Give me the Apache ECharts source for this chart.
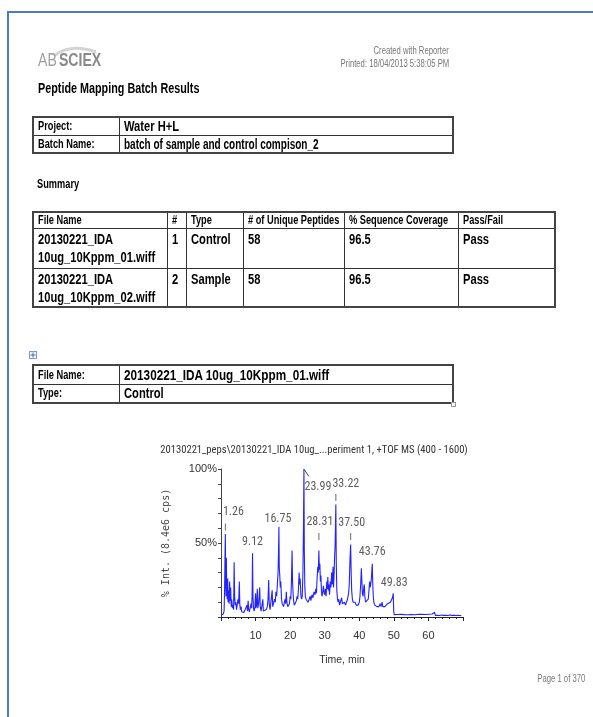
<!DOCTYPE html>
<html><head><meta charset="utf-8">
<script src="https://cdn.jsdelivr.net/npm/echarts@6/dist/echarts.min.js"></script>
<style>
html,body{margin:0;padding:0;background:#fff;}
body{width:593px;height:717px;position:relative;overflow:hidden;font-family:"Liberation Sans",Arial,sans-serif;color:#000;}
#chart{position:absolute;left:0;top:0;width:593px;height:717px;}
.abs{position:absolute;white-space:nowrap;}
.n{display:inline-block;transform:scaleX(0.77);transform-origin:0 50%;white-space:nowrap;}
.r .n{transform-origin:100% 50%;}
.bt{position:absolute;left:7px;top:11px;right:0;height:2px;background:#4a7ebb;}
.bl{position:absolute;left:7px;top:11px;bottom:0;width:2px;background:#4a7ebb;}
table{position:absolute;border-collapse:collapse;table-layout:fixed;border:2px solid #444;}
td{border:1px solid #333;padding:0 0 0 4px;font-weight:bold;vertical-align:middle;white-space:nowrap;}
td.k{font-size:12px;}
td.v{font-size:14.5px;}
.sum td{vertical-align:top;}
.sum tr.h td{font-size:12px;vertical-align:middle;}
.sum tr.b td{font-size:14.5px;line-height:18px;padding-top:1px;}
.gray{color:#777;}
</style>
</head><body>
<div id="chart"></div>
<div class="bt"></div><div class="bl"></div>
<svg class="abs" style="left:34px;top:40px" width="80" height="20"><path d="M20 16 Q36 3 62 12" stroke="#d4d4d4" stroke-width="3" fill="none"/></svg>
<div class="abs" style="left:38px;top:49px;font-size:19px;color:#a0a0a0;"><span class="n" style="transform:scaleX(0.74)">AB<b style="color:#8a8a8a;margin-left:3px;">SCIEX</b></span></div>
<div class="abs gray r" style="right:144px;top:44px;font-size:10px;text-align:right;line-height:13px;"><span class="n">Created with Reporter</span><br><span class="n">Printed: 18/04/2013 5:38:05 PM</span></div>
<div class="abs" style="left:38px;top:79px;font-size:15px;font-weight:bold;"><span class="n" style="transform:scaleX(0.72)">Peptide Mapping Batch Results</span></div>

<table style="left:32px;top:116px;width:420px;">
<colgroup><col style="width:86px"><col style="width:334px"></colgroup>
<tr style="height:18px"><td class="k"><span class="n">Project:</span></td><td class="v"><span class="n">Water H+L</span></td></tr>
<tr style="height:18px"><td class="k"><span class="n">Batch Name:</span></td><td class="v"><span class="n" style="transform:scaleX(0.69)">batch of sample and control compison_2</span></td></tr>
</table>

<div class="abs" style="left:37px;top:177px;font-size:12px;font-weight:bold;"><span class="n">Summary</span></div>

<table class="sum" style="left:32px;top:211px;width:522px;">
<colgroup><col style="width:134px"><col style="width:19px"><col style="width:57px"><col style="width:101px"><col style="width:114px"><col style="width:97px"></colgroup>
<tr class="h" style="height:16px"><td><span class="n">File Name</span></td><td><span class="n">#</span></td><td><span class="n">Type</span></td><td><span class="n"># of Unique Peptides</span></td><td><span class="n">% Sequence Coverage</span></td><td><span class="n">Pass/Fail</span></td></tr>
<tr class="b" style="height:40px"><td><span class="n">20130221_IDA</span><br><span class="n">10ug_10Kppm_01.wiff</span></td><td><span class="n">1</span></td><td><span class="n">Control</span></td><td><span class="n">58</span></td><td><span class="n">96.5</span></td><td><span class="n">Pass</span></td></tr>
<tr class="b" style="height:39px"><td><span class="n">20130221_IDA</span><br><span class="n">10ug_10Kppm_02.wiff</span></td><td><span class="n">2</span></td><td><span class="n">Sample</span></td><td><span class="n">58</span></td><td><span class="n">96.5</span></td><td><span class="n">Pass</span></td></tr>
</table>

<svg class="abs" style="left:29px;top:351px" width="8" height="8"><rect x="0.5" y="0.5" width="7" height="7" fill="#eef3fb" stroke="#7a9cc8"/><path d="M4 1.5V6.5M1.5 4H6.5" stroke="#4a6fa8"/></svg>
<table style="left:32px;top:364px;width:420px;">
<colgroup><col style="width:86px"><col style="width:334px"></colgroup>
<tr style="height:19px"><td class="k"><span class="n">File Name:</span></td><td class="v"><span class="n" style="transform:scaleX(0.81)">20130221_IDA 10ug_10Kppm_01.wiff</span></td></tr>
<tr style="height:19px"><td class="k"><span class="n">Type:</span></td><td class="v"><span class="n">Control</span></td></tr>
</table>
<svg class="abs" style="left:451px;top:402px" width="5" height="5"><rect x="0.5" y="0.5" width="4" height="4" fill="#fff" stroke="#999"/></svg>

<div class="abs gray r" style="right:8px;top:673px;font-size:10px;"><span class="n">Page 1 of 370</span></div>

<script>
// Chromatogram (TIC): time (min) and % intensity
const times = [0.0,0.3,0.6,0.9,1.05,1.15,1.26,1.35,1.45,1.55,1.65,1.8,1.95,2.05,2.2,2.35,2.5,2.65,2.8,2.95,3.1,3.3,3.5,3.65,3.8,3.95,4.1,4.3,4.5,4.7,4.9,5.1,5.3,5.45,5.6,5.8,6.0,6.3,6.6,6.9,7.2,7.5,7.65,7.85,8.0,8.2,8.45,8.7,8.85,9.0,9.12,9.25,9.4,9.6,9.8,10.0,10.1,10.3,10.5,10.65,10.9,11.2,11.35,11.6,11.9,12.1,12.25,12.5,12.8,13.1,13.4,13.6,13.8,13.95,14.2,14.5,14.8,14.95,15.2,15.5,15.7,15.9,16.1,16.3,16.5,16.65,16.75,16.85,17.0,17.15,17.3,17.5,17.7,17.9,18.1,18.3,18.5,18.7,18.9,19.05,19.3,19.5,19.8,20.0,20.2,20.4,20.55,20.7,20.85,21.0,21.2,21.4,21.6,21.8,22.0,22.2,22.4,22.6,22.75,22.9,23.1,23.3,23.5,23.7,23.85,23.99,24.1,24.25,24.4,24.6,24.8,25.0,25.2,25.5,25.8,26.0,26.3,26.6,26.9,27.2,27.4,27.6,27.8,28.0,28.15,28.31,28.45,28.6,28.75,28.9,29.05,29.2,29.4,29.6,29.8,30.0,30.2,30.4,30.6,30.75,30.9,31.05,31.2,31.4,31.6,31.8,32.0,32.2,32.4,32.55,32.7,32.85,33.0,33.1,33.22,33.35,33.5,33.7,33.9,34.1,34.3,34.6,34.9,35.1,35.4,35.7,36.0,36.3,36.6,36.9,37.1,37.3,37.5,37.65,37.8,38.0,38.2,38.5,38.8,39.1,39.4,39.7,40.0,40.2,40.4,40.6,40.75,40.9,41.1,41.3,41.45,41.6,41.8,42.0,42.3,42.6,42.8,43.0,43.15,43.3,43.5,43.65,43.76,43.9,44.05,44.2,44.5,44.8,45.1,45.4,45.7,46.0,46.3,46.6,46.8,47.1,47.4,47.8,48.2,48.6,49.0,49.3,49.6,49.83,49.95,50.1,50.6,51.1,51.6,52.1,52.6,53.1,53.6,54.1,54.6,55.1,55.6,56.1,56.6,57.1,57.6,58.1,58.6,59.1,59.6,60.1,60.6,61.1,61.5,61.8,62.0,62.3,62.6,62.9,63.2,63.5,63.8,64.1,64.4,64.7,65.0,65.3,65.6,65.9,66.2,66.5,66.8,67.1,67.4,67.7,68.0,68.3,68.6,68.9,69.2,69.5];
const intensity = [1.2,1.5,1.8,4,20,40,56,22,14,40,18,12,26,10,18,9,24,11,20,7,12,6,8,5,37,14,8,10,5,6,12,9,24,8,5,7,3.5,4,3,4.5,3.5,8,4,11,5,3.5,4,9,6,14,43,14,6,4,7,16,6,8,19,6,9,20,7,4,5,12,4,3,3.5,5,7,12,25,9,5,6,18,7,9,12,10,17,14,22,30,45,61,34,28,20,24,12,9,10,7,8,12,9,17,10,7,8,9,14,12,26,45,24,16,11,8,9,7,11,14,12,19,30,22,26,15,12,14,30,60,100,45,20,14,12,11,13,10,12,14,11,15,13,17,15,19,16,26,34,30,45,32,36,24,28,18,14,16,21,17,15,19,14,24,19,27,18,22,15,24,20,30,22,34,20,28,40,48,60,76,36,18,12,10,12,8,9,13,9,8,10,8,9,12,16,22,38,49,30,18,12,10,9,10,8,9,8,10,14,22,33,24,16,14,20,22,14,10,11,9,12,18,24,20,22,26,32,36,22,14,10,8,9,7,8,7,9,7,10,7,8,7,8,9,9,10,11,13,16,4,1.6,1.4,1.7,1.5,1.8,1.4,1.6,1.9,1.5,1.7,1.6,1.8,1.5,1.7,1.9,1.6,1.8,1.6,1.7,1.8,1.9,2.0,2.0,2.2,3.2,1.0,0.6,1.2,0.5,1.0,0.7,1.3,0.6,1.1,0.5,1.2,0.7,1.0,0.5,1.3,0.6,1.1,0.7,1.2,0.5,1.0,0.7,1.2,0.6,1.0,0.8];
const peakTimes = [1.26, 9.12, 16.75, 23.99, 28.31, 33.22, 37.50, 43.76, 49.83];
const markedPeaks = [1.26, 28.31, 33.22, 37.50];
const xTicks = [10, 20, 30, 40, 50, 60];
const yTickLabels = [50, 100];
const titleText = '20130221_peps\\20130221_IDA 10ug_...periment 1, +TOF MS (400 - 1600)';

// label placement (styling only)
const labelOffsets = {'1.26':[8,-22],'9.12':[0,-11],'16.75':[-1,-8],'23.99':[14,18],'28.31':[1,-28],'33.22':[10,-21],'37.5':[1,-21],'43.76':[0,-12],'49.83':[1,-10]};
const markerOffsets = {'1.26':-7,'28.31':-14,'33.22':-7,'37.5':-8};

const valueAt = t => intensity[times.indexOf(t)];
const BASE = '"Liberation Sans",Arial,sans-serif';

// pick a narrow font for chart texts if one is installed
function hasFont(name) {
  const c = document.createElement('canvas').getContext('2d');
  const s = 'abcdefghijklmnopqrstuvwxyz0123456789';
  const m = f => { c.font = f; return c.measureText(s).width; };
  return m('20px monospace') !== m('20px "' + name + '", monospace') ||
         m('20px serif') !== m('20px "' + name + '", serif');
}
const narrow = ['Liberation Sans Narrow', 'Arial Narrow', 'Roboto Condensed', 'Noto Sans Condensed', 'Open Sans Condensed'].find(hasFont);
const NARROW_FONT = narrow ? '"' + narrow + '",' + BASE : BASE;
const titleSize = narrow ? 10.6 : 9.6;
const peakSize = narrow ? 12 : 11;

const chart = echarts.init(document.getElementById('chart'));
chart.setOption({
  animation: false,
  title: {text: titleText, left: 309, top: 440, textAlign: 'center',
    textStyle: {fontFamily: NARROW_FONT, fontSize: titleSize, fontWeight: 'normal', color: '#333'}},
  grid: {left: 221, top: 469, width: 242, height: 148},
  xAxis: {type: 'value', min: 0, max: 70, interval: 10,
    name: 'Time, min', nameLocation: 'middle', nameGap: 38,
    nameTextStyle: {fontFamily: BASE, fontSize: 10.5, color: '#333'},
    axisLine: {lineStyle: {color: '#222', width: 1}},
    axisTick: {length: 4, lineStyle: {color: '#222'}},
    minorTick: {show: true, splitNumber: 5, length: 2, lineStyle: {color: '#222'}},
    axisLabel: {margin: 13, fontFamily: BASE, fontSize: 11, color: '#333',
      formatter: v => xTicks.includes(v) ? String(v) : ''},
    splitLine: {show: false}},
  yAxis: {type: 'value', min: 0, max: 100, interval: 10,
    name: '% Int. (8.4e6 cps)', nameLocation: 'middle', nameGap: 50, nameRotate: 90,
    nameTextStyle: {fontFamily: '"DejaVu Sans Mono",monospace', fontSize: 10, color: '#444'},
    axisLine: {show: true, lineStyle: {color: '#444'}},
    axisTick: {show: true, length: 3, lineStyle: {color: '#444'}},
    axisLabel: {margin: 4, fontFamily: BASE, fontSize: 11, color: '#333',
      formatter: v => yTickLabels.includes(v) ? v + '%' : ''},
    splitLine: {show: false}},
  series: [
    {type: 'line', data: times.map((t, i) => [t, intensity[i]]), showSymbol: false,
     lineStyle: {color: '#2323ff', width: 1.1}, silent: true, z: 3,
     markLine: {silent: true, symbol: 'none', label: {show: false},
       lineStyle: {color: '#444', width: 1, type: 'solid'},
       data: [[{coord: [23.99, 100]}, {coord: [25.4, 95]}]]}},
    {type: 'scatter', silent: true, symbolSize: 1, itemStyle: {color: 'rgba(0,0,0,0)'}, z: 5,
     data: peakTimes.map(t => ({value: [t, valueAt(t)],
       label: {offset: labelOffsets[String(t)]}})),
     label: {show: true, position: 'inside', align: 'center', verticalAlign: 'middle',
       fontFamily: NARROW_FONT, fontSize: peakSize, color: '#333',
       formatter: p => p.value[0].toFixed(2)}},
    {type: 'scatter', silent: true, symbol: 'rect', symbolSize: [1, 7], z: 4,
     itemStyle: {color: '#444'},
     data: markedPeaks.map(t => ({value: [t, valueAt(t)], symbolOffset: [0, markerOffsets[String(t)]]}))}
  ]
});
</script>
</body></html>
